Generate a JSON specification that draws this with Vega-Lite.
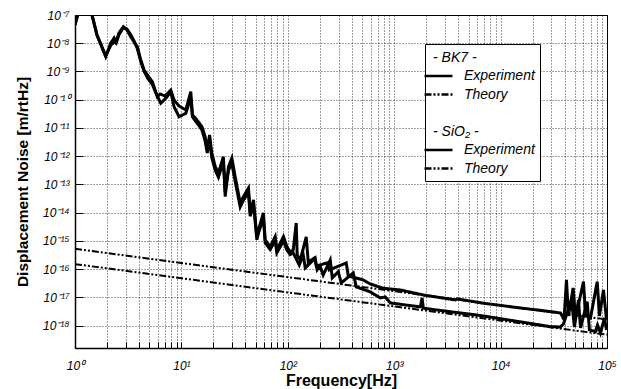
{
  "$schema": "https://vega.github.io/schema/vega-lite/v6.json",
  "width": 532,
  "height": 333,
  "autosize": {"type": "none"},
  "padding": {"left": 75, "top": 15, "right": 14, "bottom": 41},
  "background": "#ffffff",
  "config": {
    "view": {"stroke": "#000", "strokeWidth": 1},
    "font": "Liberation Sans",
    "legend": {
      "symbolStrokeColor": "#000"
    }
  },
  "data": {
    "values": [
      {"f": 1, "v": 5.25e-16, "s": "c"},
      {"f": 100000, "v": 1.66e-18, "s": "c"},
      {"f": 1, "v": 1.51e-16, "s": "g"},
      {"f": 100000, "v": 4.79e-19, "s": "g"},

      {"f": 1, "v": 4.5e-8, "s": "b"},
      {"f": 1.09, "v": 1.5e-7, "s": "b"},
      {"f": 1.22, "v": 1.7e-6, "s": "b"},
      {"f": 1.445, "v": 1e-7, "s": "b"},
      {"f": 1.61, "v": 1.94e-8, "s": "b"},
      {"f": 1.944, "v": 3.34e-9, "s": "b"},
      {"f": 2.17, "v": 1.02e-8, "s": "b"},
      {"f": 2.33, "v": 1.53e-8, "s": "b"},
      {"f": 2.43, "v": 1.11e-8, "s": "b"},
      {"f": 2.59, "v": 2.31e-8, "s": "b"},
      {"f": 2.85, "v": 3.86e-8, "s": "b"},
      {"f": 3.08, "v": 2.94e-8, "s": "b"},
      {"f": 3.34, "v": 1.71e-8, "s": "b"},
      {"f": 3.59, "v": 1.11e-8, "s": "b"},
      {"f": 3.85, "v": 7.55e-9, "s": "b"},
      {"f": 4.15, "v": 2.55e-9, "s": "b"},
      {"f": 4.46, "v": 1.13e-9, "s": "b"},
      {"f": 4.86, "v": 6.93e-10, "s": "b"},
      {"f": 5.33, "v": 4.36e-10, "s": "b"},
      {"f": 5.66, "v": 2.21e-10, "s": "b"},
      {"f": 5.94, "v": 1.28e-10, "s": "b"},
      {"f": 6.31, "v": 1.6e-10, "s": "b"},
      {"f": 7.03, "v": 1.36e-10, "s": "b"},
      {"f": 7.95, "v": 2.21e-10, "s": "b"},
      {"f": 8.53, "v": 9.8e-11, "s": "b"},
      {"f": 9.51, "v": 6.0e-11, "s": "b"},
      {"f": 11.0, "v": 4.34e-11, "s": "b"},
      {"f": 12.25, "v": 1.93e-10, "s": "b"},
      {"f": 12.7, "v": 2.88e-11, "s": "b"},
      {"f": 13.6, "v": 2.2e-11, "s": "b"},
      {"f": 14.7, "v": 1.5e-11, "s": "b"},
      {"f": 15.6, "v": 1.11e-11, "s": "b"},
      {"f": 16.7, "v": 4.92e-12, "s": "b"},
      {"f": 17.5, "v": 1.66e-12, "s": "b"},
      {"f": 18.4, "v": 5.65e-12, "s": "b"},
      {"f": 19.3, "v": 1.3e-12, "s": "b"},
      {"f": 20.8, "v": 4.27e-13, "s": "b"},
      {"f": 22.3, "v": 2.55e-13, "s": "b"},
      {"f": 24.8, "v": 9.6e-13, "s": "b"},
      {"f": 25.8, "v": 3.7e-14, "s": "b"},
      {"f": 27.7, "v": 4.27e-13, "s": "b"},
      {"f": 29.8, "v": 8.67e-13, "s": "b"},
      {"f": 32.0, "v": 1.89e-13, "s": "b"},
      {"f": 35.7, "v": 2.21e-14, "s": "b"},
      {"f": 38.3, "v": 3.7e-14, "s": "b"},
      {"f": 42.7, "v": 7.5e-14, "s": "b"},
      {"f": 44.3, "v": 9.8e-15, "s": "b"},
      {"f": 47.6, "v": 2.83e-14, "s": "b"},
      {"f": 51.2, "v": 1.42e-15, "s": "b"},
      {"f": 53.0, "v": 2.45e-15, "s": "b"},
      {"f": 59.0, "v": 9.8e-15, "s": "b"},
      {"f": 61.3, "v": 1.08e-15, "s": "b"},
      {"f": 68.3, "v": 6.28e-16, "s": "b"},
      {"f": 76.1, "v": 1.42e-15, "s": "b"},
      {"f": 78.9, "v": 4.8e-16, "s": "b"},
      {"f": 91.1, "v": 1.42e-15, "s": "b"},
      {"f": 98.1, "v": 6.28e-16, "s": "b"},
      {"f": 105.4, "v": 4.08e-16, "s": "b"},
      {"f": 112.4, "v": 4.8e-16, "s": "b"},
      {"f": 120, "v": 4.34e-15, "s": "b"},
      {"f": 122.5, "v": 3.19e-16, "s": "b"},
      {"f": 130.9, "v": 2.12e-16, "s": "b"},
      {"f": 149, "v": 1.39e-15, "s": "b"},
      {"f": 155.6, "v": 1.81e-16, "s": "b"},
      {"f": 178.3, "v": 2.5e-16, "s": "b"},
      {"f": 185, "v": 1.3e-16, "s": "b"},
      {"f": 233, "v": 1.66e-16, "s": "b"},
      {"f": 245, "v": 9.4e-17, "s": "b"},
      {"f": 354, "v": 1.66e-16, "s": "b"},
      {"f": 370, "v": 5.77e-17, "s": "b"},
      {"f": 512, "v": 4.16e-17, "s": "b"},
      {"f": 596, "v": 3.0e-17, "s": "b"},
      {"f": 789, "v": 2.11e-17, "s": "b"},
      {"f": 1140, "v": 1.84e-17, "s": "b"},
      {"f": 1879, "v": 1.22e-17, "s": "b"},
      {"f": 3758, "v": 8.16e-18, "s": "b"},
      {"f": 3926, "v": 8.85e-18, "s": "b"},
      {"f": 6890, "v": 6.23e-18, "s": "b"},
      {"f": 15350, "v": 4.25e-18, "s": "b"},
      {"f": 29370, "v": 3.14e-18, "s": "b"},
      {"f": 36550, "v": 2.82e-18, "s": "b"},
      {"f": 38730, "v": 1.88e-18, "s": "b"},
      {"f": 39810, "v": 2.82e-18, "s": "b"},
      {"f": 41590, "v": 4.16e-17, "s": "b"},
      {"f": 43450, "v": 2.21e-18, "s": "b"},
      {"f": 48080, "v": 2.17e-17, "s": "b"},
      {"f": 50570, "v": 1.88e-18, "s": "b"},
      {"f": 60120, "v": 3.62e-17, "s": "b"},
      {"f": 62810, "v": 2.4e-18, "s": "b"},
      {"f": 69980, "v": 1.88e-18, "s": "b"},
      {"f": 80910, "v": 3.62e-17, "s": "b"},
      {"f": 84920, "v": 2.21e-18, "s": "b"},
      {"f": 92650, "v": 1.84e-17, "s": "b"},
      {"f": 98900, "v": 1.6e-18, "s": "b"},

      {"f": 1, "v": 4.5e-8, "s": "f"},
      {"f": 1.09, "v": 1.5e-7, "s": "f"},
      {"f": 1.22, "v": 1.7e-6, "s": "f"},
      {"f": 1.445, "v": 1e-7, "s": "f"},
      {"f": 1.61, "v": 1.94e-8, "s": "f"},
      {"f": 1.944, "v": 3.6e-9, "s": "f"},
      {"f": 2.17, "v": 8.5e-9, "s": "f"},
      {"f": 2.33, "v": 1.1e-8, "s": "f"},
      {"f": 2.43, "v": 1.0e-8, "s": "f"},
      {"f": 2.59, "v": 2.0e-8, "s": "f"},
      {"f": 2.85, "v": 3.6e-8, "s": "f"},
      {"f": 3.08, "v": 3.2e-8, "s": "f"},
      {"f": 3.34, "v": 2.0e-8, "s": "f"},
      {"f": 3.59, "v": 1.2e-8, "s": "f"},
      {"f": 3.85, "v": 6.5e-9, "s": "f"},
      {"f": 4.15, "v": 2.3e-9, "s": "f"},
      {"f": 4.46, "v": 1.0e-9, "s": "f"},
      {"f": 4.86, "v": 5.5e-10, "s": "f"},
      {"f": 5.33, "v": 3.5e-10, "s": "f"},
      {"f": 5.66, "v": 2.0e-10, "s": "f"},
      {"f": 6.4, "v": 7.5e-11, "s": "f"},
      {"f": 7.13, "v": 1.12e-10, "s": "f"},
      {"f": 7.95, "v": 1.88e-10, "s": "f"},
      {"f": 8.53, "v": 5.67e-11, "s": "f"},
      {"f": 9.51, "v": 2.51e-11, "s": "f"},
      {"f": 11.0, "v": 3.31e-11, "s": "f"},
      {"f": 12.25, "v": 1.15e-10, "s": "f"},
      {"f": 12.7, "v": 2.5e-11, "s": "f"},
      {"f": 13.8, "v": 1.6e-11, "s": "f"},
      {"f": 14.7, "v": 1.2e-11, "s": "f"},
      {"f": 15.6, "v": 8.5e-12, "s": "f"},
      {"f": 16.7, "v": 3.5e-12, "s": "f"},
      {"f": 17.5, "v": 1.3e-12, "s": "f"},
      {"f": 18.4, "v": 3.8e-12, "s": "f"},
      {"f": 19.3, "v": 9e-13, "s": "f"},
      {"f": 20.8, "v": 3.2e-13, "s": "f"},
      {"f": 22.3, "v": 1.8e-13, "s": "f"},
      {"f": 24.8, "v": 6.5e-13, "s": "f"},
      {"f": 25.8, "v": 5.5e-14, "s": "f"},
      {"f": 27.7, "v": 3.2e-13, "s": "f"},
      {"f": 29.8, "v": 5.5e-13, "s": "f"},
      {"f": 32.0, "v": 1.3e-13, "s": "f"},
      {"f": 35.7, "v": 1.6e-14, "s": "f"},
      {"f": 38.3, "v": 2.8e-14, "s": "f"},
      {"f": 42.7, "v": 5.2e-14, "s": "f"},
      {"f": 44.3, "v": 7.5e-15, "s": "f"},
      {"f": 47.6, "v": 2.0e-14, "s": "f"},
      {"f": 51.2, "v": 1.1e-15, "s": "f"},
      {"f": 53.0, "v": 1.9e-15, "s": "f"},
      {"f": 59.0, "v": 6.5e-15, "s": "f"},
      {"f": 61.3, "v": 8.5e-16, "s": "f"},
      {"f": 68.3, "v": 5.0e-16, "s": "f"},
      {"f": 76.1, "v": 1.0e-15, "s": "f"},
      {"f": 78.9, "v": 3.8e-16, "s": "f"},
      {"f": 91.1, "v": 1.0e-15, "s": "f"},
      {"f": 98.1, "v": 4.8e-16, "s": "f"},
      {"f": 105.4, "v": 3.3e-16, "s": "f"},
      {"f": 112.4, "v": 3.8e-16, "s": "f"},
      {"f": 117, "v": 2.8e-16, "s": "f"},
      {"f": 128, "v": 1.41e-16, "s": "f"},
      {"f": 139.6, "v": 3.19e-16, "s": "f"},
      {"f": 145.9, "v": 1.11e-16, "s": "f"},
      {"f": 181, "v": 2.44e-16, "s": "f"},
      {"f": 189, "v": 9.4e-17, "s": "f"},
      {"f": 202, "v": 1.23e-16, "s": "f"},
      {"f": 215, "v": 6.25e-17, "s": "f"},
      {"f": 250.6, "v": 2.12e-16, "s": "f"},
      {"f": 261.8, "v": 4.9e-17, "s": "f"},
      {"f": 298, "v": 8.18e-17, "s": "f"},
      {"f": 318, "v": 3.26e-17, "s": "f"},
      {"f": 412, "v": 7.36e-17, "s": "f"},
      {"f": 440, "v": 2.36e-17, "s": "f"},
      {"f": 596, "v": 1.57e-17, "s": "f"},
      {"f": 740, "v": 9.6e-18, "s": "f"},
      {"f": 824, "v": 1.04e-17, "s": "f"},
      {"f": 918, "v": 6.38e-18, "s": "f"},
      {"f": 1762, "v": 4.61e-18, "s": "f"},
      {"f": 1828, "v": 9.6e-18, "s": "f"},
      {"f": 1879, "v": 4.15e-18, "s": "f"},
      {"f": 6890, "v": 2.21e-18, "s": "f"},
      {"f": 29370, "v": 9.25e-19, "s": "f"},
      {"f": 36550, "v": 9.0e-19, "s": "f"},
      {"f": 38990, "v": 1.15e-18, "s": "f"},
      {"f": 46360, "v": 8.16e-18, "s": "f"},
      {"f": 49430, "v": 9.0e-19, "s": "f"},
      {"f": 53950, "v": 8.16e-18, "s": "f"},
      {"f": 56360, "v": 8.3e-19, "s": "f"},
      {"f": 65160, "v": 7.1e-18, "s": "f"},
      {"f": 68400, "v": 7.1e-19, "s": "f"},
      {"f": 77980, "v": 6.17e-19, "s": "f"},
      {"f": 81470, "v": 1.06e-18, "s": "f"},
      {"f": 86900, "v": 5.53e-19, "s": "f"},
      {"f": 94640, "v": 1.88e-18, "s": "f"},
      {"f": 98900, "v": 7.1e-19, "s": "f"}
    ]
  },
  "encoding": {
    "x": {
      "field": "f",
      "type": "quantitative",
      "scale": {"type": "log", "domain": [1, 100000], "nice": false},
      "axis": {
        "values": [1,2,3,4,5,6,7,8,9,10,20,30,40,50,60,70,80,90,100,200,300,400,500,600,700,800,900,1000,2000,3000,4000,5000,6000,7000,8000,9000,10000,20000,30000,40000,50000,60000,70000,80000,90000,100000],
        "labelExpr": "abs(log(datum.value)/LN10 - round(log(datum.value)/LN10)) < 0.01 ? '10' + ['⁰','¹','²','³','⁴','⁵'][round(log(datum.value)/LN10)] : ''",
        "grid": true,
        "gridDash": [1, 2],
        "gridColor": "#000",
        "gridOpacity": 0.75,
        "gridWidth": 1,
        "tickSize": -6,
        "tickColor": "#000",
        "tickWidth": 1,
        "domainColor": "#000",
        "domainWidth": 1.5,
        "labelFont": "Liberation Sans",
        "labelFontStyle": "italic",
        "labelFontSize": 12,
        "labelColor": "#000",
        "labelPadding": 18,
        "labelFlush": false,
        "labelOverlap": false,
        "title": "Frequency[Hz]",
        "titleFont": "Liberation Sans",
        "titleFontSize": 16,
        "titleFontWeight": "bold",
        "titleColor": "#000",
        "titlePadding": 1
      }
    },
    "y": {
      "field": "v",
      "type": "quantitative",
      "scale": {"type": "log", "domain": [1.62e-19, 1e-7], "nice": false},
      "axis": {
        "values": [1e-7,1e-8,1e-9,1e-10,1e-11,1e-12,1e-13,1e-14,1e-15,1e-16,1e-17,1e-18],
        "labelExpr": "'10' + ['','','','','','','','⁻⁷','⁻⁸','⁻⁹','⁻¹⁰','⁻¹¹','⁻¹²','⁻¹³','⁻¹⁴','⁻¹⁵','⁻¹⁶','⁻¹⁷','⁻¹⁸'][round(-log(datum.value)/LN10)]",
        "grid": true,
        "gridDash": [1, 2],
        "gridColor": "#000",
        "gridOpacity": 0.75,
        "gridWidth": 1,
        "tickSize": -8,
        "tickColor": "#000",
        "tickWidth": 1,
        "domainColor": "#000",
        "domainWidth": 1.5,
        "labelFont": "Liberation Sans",
        "labelFontStyle": "italic",
        "labelFontSize": 12,
        "labelColor": "#000",
        "labelPadding": 14,
        "labelFlush": false,
        "labelOverlap": false,
        "title": "Displacement Noise [m/rtHz]",
        "titleFont": "Liberation Sans",
        "titleFontSize": 15.5,
        "titleFontWeight": "bold",
        "titleColor": "#000",
        "titlePadding": 12
      }
    },
    "strokeDash": {
      "field": "s",
      "type": "nominal",
      "scale": {
        "domain": ["a","b","c","d","e","f","g"],
        "range": [[0,1000],[1,0],[7,2,2,2,2,2],[0,1000],[0,1000],[1,0],[7,2,2,2,2,2]]
      },
      "legend": {
        "orient": "none",
        "legendX": 350,
        "legendY": 29,
        "title": null,
        "symbolType": "M-2,0H2",
        "symbolSize": 196,
        "symbolStrokeWidth": 2.5,
        "labelFont": "Liberation Sans",
        "labelFontStyle": "italic",
        "labelFontSize": 14,
        "labelColor": "#000",
        "labelOffset": 10,
        "rowPadding": 2.5,
        "padding": 5,
        "strokeColor": "#000",
        "fillColor": "#fff",
        "labelExpr": "['- BK7 -','Experiment','Theory','','- SiO₂ -','Experiment','Theory'][indexof(['a','b','c','d','e','f','g'], datum.value)]",
        "encode": {
          "labels": {
            "update": {
              "dx": {"signal": "datum.value == 'a' || datum.value == 'e' ? -24 : 7"}
            }
          }
        }
      }
    }
  },
  "layer": [
    {
      "transform": [{"filter": "datum.s == 'c' || datum.s == 'g'"}],
      "mark": {"type": "line", "color": "#000", "strokeWidth": 2, "clip": true}
    },
    {
      "transform": [{"filter": "datum.s == 'b' || datum.s == 'f'"}],
      "mark": {"type": "line", "color": "#000", "strokeWidth": 3, "clip": true}
    }
  ]
}
